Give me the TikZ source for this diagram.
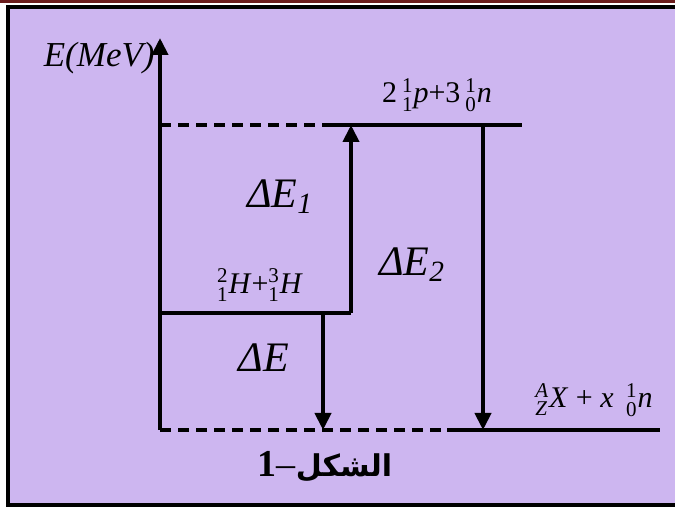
\documentclass[tikz,border=0pt]{standalone}
\usepackage{amsmath}
\usepackage{fontspec}
\setmainfont{Liberation Serif}
\newfontfamily\arabicfont[Script=Arabic]{DejaVu Sans}
\TeXXeTstate=1
\usetikzlibrary{arrows.meta}
\definecolor{wash}{HTML}{CDB6F0}
\definecolor{band}{HTML}{6B1C1C}
\newcommand{\iso}[2]{${}^{\text{#1}}_{\text{#2}}$}

\begin{document}
\begin{tikzpicture}[
  x=0.5pt,y=-0.5pt,
  lvl/.style={line width=2pt},
  gap/.style={line width=1.7pt,dash pattern=on 5.5pt off 3.5pt},
  ar/.style={-{Triangle[length=8.5pt,width=8pt]},line width=2pt},
  tag/.style={inner sep=0pt,font=\fontsize{15}{18}\selectfont},
  big/.style={inner sep=0pt,font=\fontsize{21}{24}\selectfont\itshape}
]
\useasboundingbox (0,0) rectangle (675,507);
\fill[band] (0,0) rectangle (675,3);
\fill[wash] (8,7) rectangle (675,505);
\draw[line width=1.8pt] (675,7) -- (8,7) -- (8,505) -- (675,505);

\coordinate (o) at (160,430);
\coordinate (top) at (160,38);
\coordinate (hi0) at (160,125);
\coordinate (hi1) at (333,125);
\coordinate (hi2) at (522,125);
\coordinate (mid0) at (160,313);
\coordinate (mid1) at (351,313);
\coordinate (up) at (351,125);
\coordinate (dn0) at (323,313);
\coordinate (dn1) at (323,430);
\coordinate (dn2) at (483,125);
\coordinate (dn3) at (483,430);
\coordinate (lo1) at (447,430);
\coordinate (lo2) at (660,430);

\draw[gap] (hi0) -- (hi1);
\draw[gap] (o) -- (lo1);
\draw[lvl] (hi1) -- (hi2);
\draw[lvl] (lo1) -- (lo2);
\draw[lvl] (mid0) -- (mid1);
\draw[ar] (o) -- (top);
\draw[ar] (mid1) -- (up);
\draw[ar] (dn0) -- (dn1);
\draw[ar] (dn2) -- (dn3);

\node[tag,anchor=east,font=\fontsize{17.5}{20}\selectfont] (eax) at (155,58) {\textit{E(MeV)}};
\node[tag] (phi) at (437,95) {2\,\iso{1}{1}\textit{p}+3\,\iso{1}{0}\textit{n}};
\node[tag] (pmid) at (260,285) {\iso{2}{1}\textit{H}+\iso{3}{1}\textit{H}};
\node[tag] (plo) at (594,400) {\iso{\textit{A}}{\textit{Z}}\textit{X} + \textit{x}\, \iso{1}{0}\textit{n}};
\node[big] (d1) at (280,197) {ΔE\textsubscript{1}};
\node[big] (d2) at (412,265) {ΔE\textsubscript{2}};
\node[big] (d0) at (264,358) {ΔE};
\node[tag,font=\fontsize{19}{22}\selectfont] (cap) at (325,467) {\textbf{1}--{\arabicfont\fontsize{15}{18}\selectfont\bfseries\beginR الشكل\endR}};
\end{tikzpicture}
\end{document}
